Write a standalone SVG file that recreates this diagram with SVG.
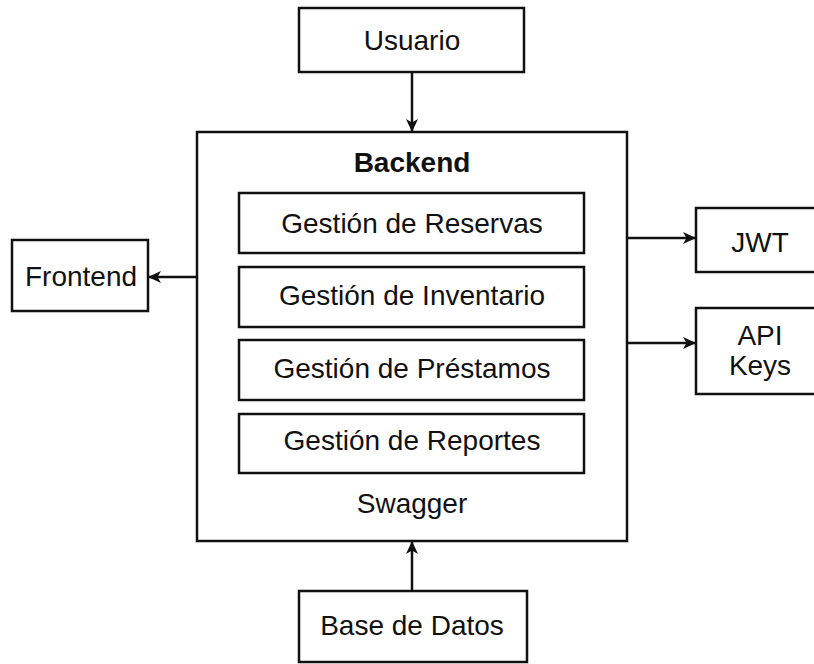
<svg xmlns="http://www.w3.org/2000/svg" width="814" height="664" viewBox="0 0 814 664">
<style>
.box{fill:#fff;stroke:#111;stroke-width:2.5}
.t{font-family:"Liberation Sans",Arial,sans-serif;font-size:28px;fill:#111;text-anchor:middle}
.b{font-weight:bold}
.c{stroke:#111;stroke-width:2.5;fill:none}
</style>
<defs>
<marker id="ah" markerWidth="13" markerHeight="12" refX="12" refY="6" orient="auto" markerUnits="userSpaceOnUse">
<path d="M0,0 L13,6 L0,12 L3.5,6 z" fill="#111"/>
</marker>
</defs>
<rect width="814" height="664" fill="#fff"/>
<g id="connectors">
<line class="c" x1="412" y1="72" x2="412" y2="131" marker-end="url(#ah)"/>
<line class="c" x1="412" y1="591" x2="412" y2="542" marker-end="url(#ah)"/>
<line class="c" x1="197" y1="277" x2="149" y2="277" marker-end="url(#ah)"/>
<line class="c" x1="627" y1="238" x2="695" y2="238" marker-end="url(#ah)"/>
<line class="c" x1="627" y1="343" x2="695" y2="343" marker-end="url(#ah)"/>
</g>
<g id="usuario">
<rect class="box" x="299" y="8" width="225" height="64"/>
<text class="t" x="412" y="50">Usuario</text>
</g>
<g id="backend">
<rect class="box" x="197" y="132" width="430" height="409"/>
<text class="t b" x="412" y="172">Backend</text>
<text class="t" x="412" y="513">Swagger</text>
</g>
<g id="reservas">
<rect class="box" x="239" y="193" width="345" height="60"/>
<text class="t" x="412" y="233">Gestión de Reservas</text>
</g>
<g id="inventario">
<rect class="box" x="239" y="267" width="345" height="60"/>
<text class="t" x="412" y="305">Gestión de Inventario</text>
</g>
<g id="prestamos">
<rect class="box" x="239" y="340" width="345" height="60"/>
<text class="t" x="412" y="378">Gestión de Préstamos</text>
</g>
<g id="reportes">
<rect class="box" x="239" y="414" width="345" height="59"/>
<text class="t" x="412" y="450">Gestión de Reportes</text>
</g>
<g id="frontend">
<rect class="box" x="12" y="240" width="136" height="71"/>
<text class="t" x="81" y="286">Frontend</text>
</g>
<g id="jwt">
<rect class="box" x="696" y="208" width="140" height="64"/>
<text class="t" x="760" y="252">JWT</text>
</g>
<g id="apikeys">
<rect class="box" x="696" y="308" width="140" height="86"/>
<text class="t" x="760" y="345">API</text>
<text class="t" x="760" y="375">Keys</text>
</g>
<g id="basedatos">
<rect class="box" x="299" y="591" width="228" height="71"/>
<text class="t" x="412" y="635">Base de Datos</text>
</g>
</svg>
